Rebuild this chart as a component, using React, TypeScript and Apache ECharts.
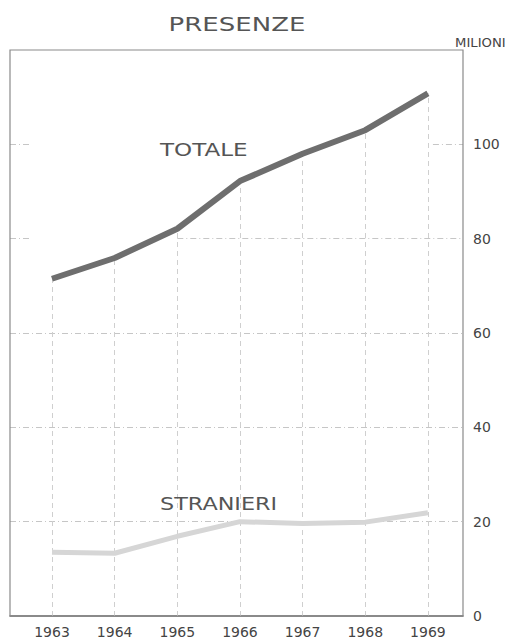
import React, { useEffect, useRef } from "react";
import * as echarts from "echarts";

const years = [1963, 1964, 1965, 1966, 1967, 1968, 1969];
const totale = [71.5, 75.9, 82.1, 92.2, 98.0, 103.0, 110.8];
const stranieri = [13.5, 13.3, 16.9, 20.0, 19.6, 19.9, 21.9];
const yTicks = [0, 20, 40, 60, 80, 100];
const fullGrid = [20, 40, 60];

const X_MIN = 1962.33;
const X_MAX = 1969.56;
const FONT = "DejaVu Sans";

export default function App() {
  const ref = useRef<HTMLDivElement>(null);
  useEffect(() => {
    if (!ref.current) return;
    const chart = echarts.init(ref.current, null, { renderer: "svg" });
    const hStyle = { color: "#c6c6c6", width: 1, type: [6, 3, 1, 3] as any };
    const vStyle = { color: "#cfcfcf", width: 1, type: [5, 4] as any };

    const dropLines = years.map((y, i) => [
      { coord: [y, 0], lineStyle: vStyle },
      { coord: [y, totale[i]] },
    ]);
    const hLines: any[] = fullGrid.map((v) => [
      { coord: [X_MIN, v], lineStyle: hStyle },
      { coord: [X_MAX, v] },
    ]);
    // partially visible upper grid lines (hidden above the TOTALE curve)
    hLines.push([{ coord: [X_MIN, 80], lineStyle: hStyle }, { coord: [X_MIN + 0.35, 80] }]);
    hLines.push([{ coord: [years[2], 80], lineStyle: hStyle }, { coord: [X_MAX, 80] }]);
    hLines.push([{ coord: [X_MIN, 100], lineStyle: hStyle }, { coord: [X_MIN + 0.35, 100] }]);
    hLines.push([{ coord: [years[6] + 0.08, 100], lineStyle: hStyle }, { coord: [X_MAX, 100] }]);

    chart.setOption({
      animation: false,
      backgroundColor: "#ffffff",
      grid: { left: 10, right: 56, top: 50, bottom: 24, containLabel: false },
      xAxis: {
        type: "value",
        min: X_MIN,
        max: X_MAX,
        axisLine: { show: true, lineStyle: { color: "#666", width: 1.5 } },
        axisTick: { show: false, customValues: years },
        axisLabel: {
          customValues: years,
          color: "#444",
          fontFamily: FONT,
          fontSize: 14,
          margin: 9,
          formatter: (v: number) => String(v),
        },
        splitLine: { show: false },
      },
      yAxis: {
        type: "value",
        position: "right",
        min: 0,
        max: 120,
        interval: 20,
        axisLine: { show: false },
        axisTick: { show: false },
        axisLabel: {
          customValues: yTicks,
          color: "#444",
          fontFamily: FONT,
          fontSize: 14,
          margin: 10,
          formatter: (v: number) => String(v),
        },
        splitLine: { show: false },
      },
      series: [
        {
          name: "STRANIERI",
          type: "line",
          data: years.map((y, i) => [y, stranieri[i]]),
          showSymbol: false,
          z: 3,
          lineStyle: { color: "#d6d6d6", width: 5 },
          markLine: {
            silent: true,
            z: 1,
            symbol: ["none", "none"],
            label: { show: false },
            data: hLines,
          },
        },
        {
          name: "TOTALE",
          type: "line",
          data: years.map((y, i) => [y, totale[i]]),
          showSymbol: false,
          z: 4,
          lineStyle: { color: "#6e6e6e", width: 6 },
          markLine: {
            silent: true,
            z: 1,
            symbol: ["none", "none"],
            label: { show: false },
            data: dropLines,
          },
        },
      ],
      graphic: [
        {
          type: "rect",
          z: 100,
          silent: true,
          shape: { x: 10, y: 50, width: 453, height: 566 },
          style: { fill: "none", stroke: "#8a8a8a", lineWidth: 1.2 },
        },
        {
          type: "text",
          z: 101,
          x: 237,
          y: 24,
          scaleX: 1.3,
          style: {
            text: "PRESENZE",
            fontFamily: FONT,
            fontSize: 20,
            fill: "#555",
            textAlign: "center",
            textVerticalAlign: "middle",
          },
        },
        {
          type: "text",
          z: 101,
          x: 455,
          y: 43,
          scaleX: 1.1,
          style: {
            text: "MILIONI",
            fontFamily: FONT,
            fontSize: 12,
            fill: "#444",
            textAlign: "left",
            textVerticalAlign: "middle",
          },
        },
        {
          type: "text",
          z: 101,
          x: 160,
          y: 150,
          scaleX: 1.28,
          style: {
            text: "TOTALE",
            fontFamily: FONT,
            fontSize: 18,
            fill: "#555",
            textAlign: "left",
            textVerticalAlign: "middle",
          },
        },
        {
          type: "text",
          z: 101,
          x: 160,
          y: 504,
          scaleX: 1.24,
          style: {
            text: "STRANIERI",
            fontFamily: FONT,
            fontSize: 18,
            fill: "#555",
            textAlign: "left",
            textVerticalAlign: "middle",
          },
        },
      ],
    });
    return () => chart.dispose();
  }, []);
  return <div ref={ref} style={{ width: 519, height: 640, position: "absolute", left: 0, top: 0 }} />;
}
